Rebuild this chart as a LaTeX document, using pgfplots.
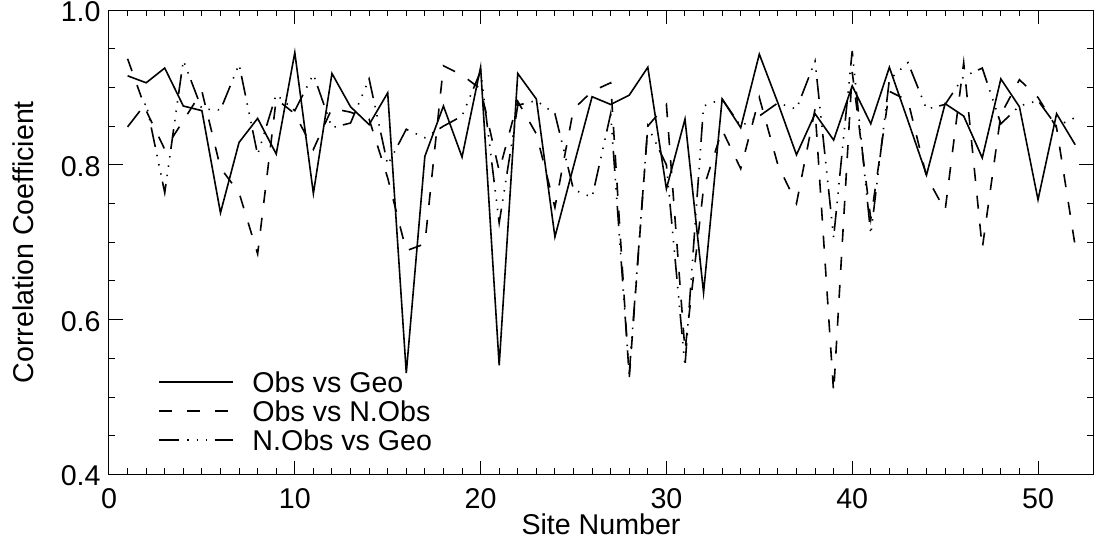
\documentclass[border=0pt]{standalone}
\usepackage{fontspec}
\setmainfont{Liberation Sans}
\usepackage{pgfplots}
\pgfplotsset{compat=1.18}
\begin{document}
\begin{tikzpicture}[font=\fontsize{14.3}{17}\selectfont]
\path[use as bounding box] (-54.5pt,-33pt) rectangle (493.5pt,237.25pt);
\begin{axis}[
  at={(0,0)}, anchor=south west,
  scale only axis, width=492pt, height=232.25pt,
  xmin=0, xmax=52.96, ymin=0.4, ymax=1.0,
  xtick={0,10,...,50}, minor x tick num=9,
  ytick={0.4,0.6,0.8,1.0}, minor y tick num=3,
  major tick length=7pt, minor tick length=3.2pt,
  tick style={black, line width=0.5pt},
  axis line style={line width=0.5pt},
  /pgf/number format/assume math mode=true,
  yticklabel style={/pgf/number format/.cd, fixed, fixed zerofill, precision=1, /tikz/.cd,
    anchor=base east, inner sep=0pt, xshift=-4pt, yshift=-5.7pt},
  xticklabel style={anchor=base, inner sep=0pt, yshift=-17.2pt},
  xlabel={Site Number},
  ylabel={Correlation Coefficient},
  every axis x label/.style={at={(axis description cs:0.5,-0.1075)}, anchor=center, inner sep=0pt},
  every axis y label/.style={at={(axis description cs:-0.0874,0.5)}, rotate=90, anchor=center, inner sep=0pt},
  legend cell align=left,
  legend image code/.code={\draw[#1] (0pt,0pt) -- (36.7pt,0pt);},
  legend style={draw=none, fill=none, at={(0.0498,0.2222)}, anchor=north west,
    inner xsep=0pt, inner ysep=0pt, row sep=4.3pt, column sep=9.5pt,
    nodes={inner sep=0pt, text height=10.2pt, text depth=0pt}},
]
\addplot[black, line width=0.8pt] coordinates {
(1,0.915)(2,0.906)(3,0.925)(4,0.876)(5,0.870)(6,0.738)(7,0.829)(8,0.860)(9,0.814)(10,0.945)
(11,0.763)(12,0.918)(13,0.875)(14,0.852)(15,0.893)(16,0.531)(17,0.811)(18,0.876)(19,0.810)(20,0.926)
(21,0.541)(22,0.918)(23,0.885)(24,0.707)(25,0.798)(26,0.888)(27,0.878)(28,0.890)(29,0.926)(30,0.769)
(31,0.859)(32,0.635)(33,0.885)(34,0.848)(35,0.943)(36,0.880)(37,0.813)(38,0.866)(39,0.832)(40,0.902)
(41,0.853)(42,0.926)(43,0.857)(44,0.787)(45,0.879)(46,0.863)(47,0.809)(48,0.911)(49,0.875)(50,0.755)
(51,0.866)(52,0.826)};
\addlegendentry{Obs vs Geo}
\addplot[black, line width=0.8pt, dash pattern=on 6.5pt off 7.5pt] coordinates {
(1,0.937)(2,0.870)(3,0.820)(4,0.857)(5,0.895)(6,0.796)(7,0.764)(8,0.685)(9,0.885)(10,0.866)
(11,0.820)(12,0.873)(13,0.868)(14,0.859)(15,0.783)(16,0.689)(17,0.698)(18,0.928)(19,0.916)(20,0.898)
(21,0.792)(22,0.882)(23,0.84)(24,0.745)(25,0.872)(26,0.895)(27,0.906)(28,0.525)(29,0.85)(30,0.878)
(31,0.56)(32,0.77)(33,0.845)(34,0.795)(35,0.887)(36,0.80)(37,0.750)(38,0.872)(39,0.506)(40,0.92)
(41,0.73)(42,0.895)(43,0.883)(44,0.785)(45,0.741)(46,0.932)(47,0.692)(48,0.865)(49,0.910)(50,0.887)
(51,0.848)(52,0.695)};
\addlegendentry{Obs vs N.Obs}
\addplot[black, line width=0.8pt, dash pattern=on 10pt off 4pt on 0.7pt off 4pt on 0.7pt off 4pt on 0.7pt off 3.6pt] coordinates {
(1,0.849)(2,0.880)(3,0.764)(4,0.935)(5,0.872)(6,0.871)(7,0.930)(8,0.813)(9,0.891)(10,0.870)
(11,0.917)(12,0.848)(13,0.854)(14,0.911)(15,0.80)(16,0.846)(17,0.835)(18,0.850)(19,0.863)(20,0.921)
(21,0.725)(22,0.877)(23,0.883)(24,0.866)(25,0.768)(26,0.758)(27,0.866)(28,0.53)(29,0.850)(30,0.80)
(31,0.54)(32,0.876)(33,0.885)(34,0.850)(35,0.863)(36,0.880)(37,0.872)(38,0.934)(39,0.706)(40,0.947)
(41,0.71)(42,0.91)(43,0.932)(44,0.872)(45,0.878)(46,0.914)(47,0.925)(48,0.853)(49,0.876)(50,0.883)
(51,0.850)(52,0.861)};
\addlegendentry{N.Obs vs Geo}
\end{axis}
\end{tikzpicture}
\end{document}
